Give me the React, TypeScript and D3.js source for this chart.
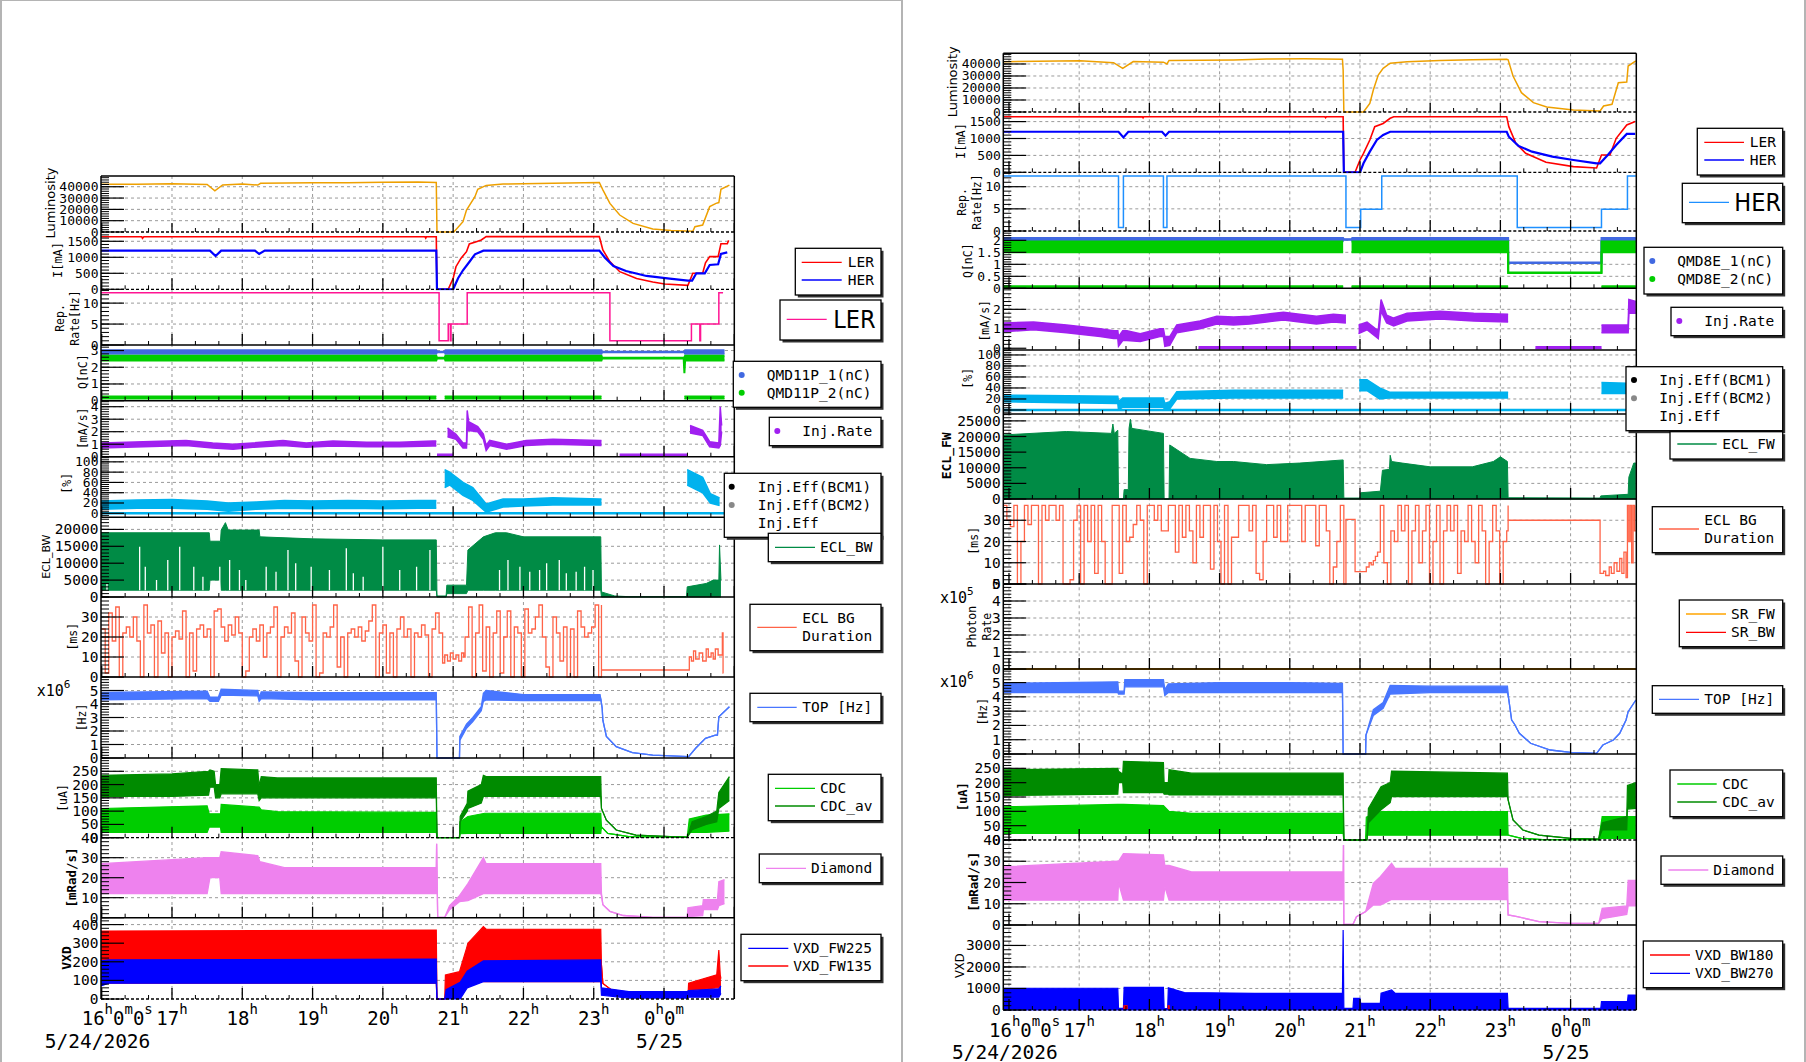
import React from 'react';
import * as d3 from 'd3';

type P2 = [number, number];
type P3 = [number, number, number];
const G: P3 = [NaN, NaN, NaN];
const seq = (t0: number, dt: number, v: number[]): P2[] => v.map((val, i) => [t0 + i * dt, val] as P2);

// ---------------- LEFT (LER) data ----------------
const lumL: P2[] = [[15.99,42100],[16.5,42300],[17.0,42600],[17.5,42000],[17.61,36400],[17.72,41600],[18.0,42500],[18.22,41500],[18.26,43000],[19.0,43600],[19.5,43500],[20.0,44000],[20.5,44200],[20.76,43800],[20.77,0],[21.01,0],[21.14,9100],[21.19,19400],[21.31,31200],[21.35,37700],[21.47,41200],[21.71,42400],[22.42,43200],[23.08,43800],[23.13,37300],[23.23,25300],[23.37,15000],[23.56,7600],[23.84,2600],[24.1,1400],[24.41,600],[24.44,4700],[24.55,6200],[24.65,22400],[24.74,25300],[24.78,26000],[24.81,37700],[24.93,41500]];
const lerL: P2[] = [[15.99,1640],[16.57,1640],[16.58,1590],[16.6,1640],[20.6,1640],[20.61,1600],[20.62,1640],[20.76,1640],[20.77,0],[20.93,0],[21.0,340],[21.04,706],[21.11,966],[21.19,1175],[21.23,1416],[21.33,1488],[21.4,1540],[21.47,1644],[23.08,1644],[23.13,1228],[23.23,863],[23.37,550],[23.61,340],[23.84,228],[24.01,166],[24.34,124],[24.41,500],[24.55,500],[24.59,830],[24.65,1020],[24.77,1020],[24.81,1425],[24.9,1425],[24.92,1530]];
const herL: P2[] = [[15.99,1207],[17.54,1207],[17.62,1040],[17.7,1207],[18.18,1207],[18.24,1103],[18.32,1207],[20.76,1207],[20.77,0],[21.0,0],[21.07,344],[21.14,594],[21.23,853],[21.31,1093],[21.43,1207],[23.08,1207],[23.16,988],[23.28,728],[23.46,571],[23.75,417],[24.08,334],[24.34,272],[24.4,272],[24.46,500],[24.58,500],[24.65,760],[24.77,780],[24.81,1103],[24.9,1155]];
const repL: P2[] = [[15.99,12.5],[20.8,1.0],[20.93,5],[20.96,1],[20.97,5],[21.2,12.5],[23.23,1],[24.39,5],[24.51,1],[24.52,5],[24.78,12.5],[24.84,12.5]];
const q1L: P3[] = [[15.99,2.8,3.02],[20.76,2.8,3.02],[20.77,2.9,2.93],[20.88,2.9,2.93],[20.89,2.8,3.02],[23.11,2.8,3.02],[23.12,2.9,2.93],[24.29,2.9,2.93],[24.3,2.8,3.02],[24.86,2.8,3.02]];
const q2L: P3[] = [[15.99,2.4,2.68],[20.76,2.4,2.68],[20.77,2.53,2.57],[20.88,2.53,2.57],[20.89,2.4,2.68],[23.11,2.4,2.68],[23.12,2.53,2.57],[24.28,2.53,2.57],[24.29,1.65,2.6],[24.3,2.4,2.68],[24.86,2.4,2.68]];
const q2LowL: P3[] = [[15.99,0.12,0.26],[20.76,0.12,0.26],G,[20.88,0.12,0.26],[23.11,0.12,0.26],G,[24.29,0.12,0.26],[24.86,0.12,0.26]];
const injL: P3[] = [[15.99,0.7,1.1],[16.59,0.8,1.2],[17.2,0.9,1.3],[17.58,0.7,1.1],[17.87,0.6,1.0],[18.15,0.75,1.1],[18.58,0.9,1.3],[18.91,0.75,1.1],[19.29,0.85,1.25],[19.77,0.8,1.15],[20.24,0.8,1.15],[20.71,0.85,1.25],[20.76,0.85,1.25],G,[20.92,1.6,2.3],[21.04,1.4,1.8],[21.14,0.7,1.1],[21.19,0.7,1.1],[21.2,2.2,3.7],[21.22,2.1,2.8],[21.35,2.0,2.4],[21.43,1.4,1.8],[21.47,0.5,0.9],[21.52,0.9,1.3],[21.76,0.6,1.0],[22.04,0.9,1.3],[22.42,1.0,1.4],[23.08,0.9,1.3],[23.11,0.9,1.3],G,[24.37,1.9,2.5],[24.55,1.7,2.1],[24.65,0.8,1.2],[24.78,0.7,1.1],[24.8,0.9,4.0],[24.82,2.0,2.5]];
const injZeroL: P3[] = [[20.77,0.05,0.2],[21.0,0.05,0.2],G,[23.37,0.05,0.2],[24.33,0.05,0.2]];
const effL: P3[] = [[15.99,8,24],[16.5,10,26],[17.0,10,27],[17.5,8,24],[17.8,4,20],[18.2,8,22],[18.6,10,25],[19.0,9,24],[19.5,10,25],[20.0,9,24],[20.5,10,25],[20.76,10,25],G,[20.88,50,85],[20.95,55,80],[21.14,35,60],[21.28,25,50],[21.47,2,18],[21.71,12,28],[22.0,14,28],[22.42,16,30],[23.08,16,28],[23.11,16,28],G,[24.33,55,85],[24.55,40,70],[24.66,20,38],[24.79,15,30]];
const effZeroL: P3[] = [[15.99,-0.9,0.9],[24.86,-0.9,0.9]];
const eclBwL: P3[] = [[15.99,2000,19000],[17.53,2000,19000],[17.54,5000,16500],[17.69,5000,16500],[17.7,2000,19800],[17.76,2000,22000],[17.8,2000,19800],[18.24,2000,19800],[18.25,2000,17800],[19.0,2000,17200],[20.0,2000,16900],[20.76,2000,16900],[20.77,0,300],[20.9,0,300],[20.91,1000,3500],[21.19,1000,3500],[21.21,2000,13900],[21.43,2000,17800],[21.6,2000,19000],[21.76,2000,19000],[22.0,2000,17800],[23.1,2000,17800],[23.11,0,1500],[23.3,0,300],[23.5,0,100],[24.32,0,100],[24.33,0,3000],[24.6,0,4000],[24.7,0,5000],[24.78,0,5000],[24.79,0,15400],[24.81,0,5000]];
// white gaps (time, from, up to) seen inside the ECL_BW band
const eclBwGapsL: P3[] = [[16.075,2000,4050],[16.54,2000,14900],[16.62,2000,8960],[16.78,2000,5030],[16.94,2000,10950],[17.11,2000,14900],[17.31,2000,8960],[17.44,2000,6000],[17.68,2000,8960],[17.82,2000,10950],[17.96,2000,7990],[18.05,2000,5030],[18.34,2000,8960],[18.48,2000,7490],[18.65,2000,13900],[18.76,2000,9960],[18.98,2000,8960],[19.24,2000,7990],[19.48,2000,14400],[19.58,2000,7000],[19.72,2000,6000],[20.0,2000,14900],[20.24,2000,7990],[20.48,2000,8960],[20.67,2000,13900],[21.66,2000,8000],[21.78,2000,10950],[21.95,2000,8960],[22.09,2000,7490],[22.23,2000,7990],[22.33,2000,9960],[22.51,2000,10950],[22.61,2000,7000],[22.75,2000,7490],[22.87,2000,8960],[22.99,2000,7990]];
const eclBgLa = [24,2,32,18,35,0,22,25,20,30,18,0,36,22,26,0,28,12,22,0,20,23,19,33,0,22,3,24,26,20,24,0,33,34,25,18,26,21,30,22,0,3,20,24,18,26,10,22,25,35,0,20,25,22,32,8,0,30,22,18,36,0,2,22,20,25,36,5,20,0,22,24,20,25,18,23,28,36,0,22,26,2,22,0,24,30,20,24,0,22,20,26,21,0,24,32];
const eclBgLb: P2[] = [[20.8,22],[20.84,22],[20.85,7],[20.88,11],[20.92,8],[20.96,12],[21.0,9],[21.04,11],[21.08,8],[21.12,12],[21.15,10]];
const eclBgLc = [20,35,0,22,36,3,25,0,22,33,2,20,33,0,25,22,0,34,22,24,30,36,20,5,0,30,22,8,25,0,24,0,33,25,20,22,25,36,0];
const eclBgLd: P2[] = [[23.11,36],[23.11,3.5],[24.35,3.5],[24.36,10],[24.39,8],[24.42,13],[24.45,9],[24.5,12],[24.55,8],[24.6,14],[24.63,10],[24.67,12],[24.7,9],[24.73,14],[24.77,11],[24.83,22],[24.84,2],[24.845,2]];
const topL: P3[] = [[15.99,4.3,4.85],[17.5,4.4,4.95],[17.54,4.2,4.5],[17.66,4.2,4.5],[17.7,4.65,5.1],[18.22,4.6,5.0],[18.24,4.2,4.5],[18.27,4.4,4.9],[19.0,4.3,4.85],[20.0,4.3,4.85],[20.76,4.3,4.85],[20.77,0,0],[21.09,0,0],[21.095,1.3,1.6],[21.19,2.2,2.5],[21.28,2.7,3.0],[21.4,3.5,3.8],[21.43,4.2,4.8],[21.47,4.3,5.0],[22.0,4.25,4.7],[23.09,4.25,4.7],[23.1,4.4,4.4],[23.12,3.7,3.7],[23.13,2.8,2.8],[23.18,1.6,1.6],[23.32,0.84,0.84],[23.55,0.4,0.4],[23.84,0.22,0.22],[24.35,0.1,0.1],[24.45,0.72,0.72],[24.59,1.46,1.46],[24.73,1.7,1.7],[24.76,1.7,1.7],[24.78,3.06,3.06],[24.93,3.8,3.8]];
const cdcL: P3[] = [[15.99,20,110],[17.5,20,120],[17.53,40,90],[17.69,40,90],[17.7,20,125],[18.24,20,115],[18.27,20,105],[18.5,20,98],[20.76,20,95],[20.77,0,0],[21.09,0,0],[21.1,15,60],[21.21,16,80],[21.45,16,92],[23.1,16,92],[23.11,41,41],[23.2,16,16],[23.5,4,4],[24.33,2,2],[24.36,20,70],[24.6,20,85],[24.93,25,90]];
const cdcAvL: P3[] = [[15.99,155,235],[17.0,155,240],[17.52,160,250],[17.54,190,255],[17.6,190,250],[17.62,150,200],[17.68,150,200],[17.7,165,260],[18.22,165,255],[18.24,140,195],[18.27,150,230],[18.5,150,225],[20.76,150,225],[20.77,0,0],[21.09,0,0],[21.1,60,80],[21.2,100,130],[21.21,110,175],[21.4,130,200],[21.43,155,235],[21.47,155,230],[23.1,155,230],[23.11,110,110],[23.18,66,66],[23.32,29,29],[23.6,10,10],[24.33,1,1],[24.4,30,60],[24.6,50,80],[24.75,60,100],[24.78,110,170],[24.93,140,230]];
const diaL: P3[] = [[15.99,12,27],[17.5,12,30],[17.54,20,30],[17.68,20,30],[17.7,12,33],[18.22,12,31],[18.25,12,28],[18.6,12,25],[20.76,12,25],[20.765,37,37],[20.78,0.2,0.2],[20.88,0.2,0.2],[20.95,4,6],[21.09,8,11],[21.21,8.5,17],[21.43,12,30],[21.47,12,27],[23.1,12,27],[23.11,11,12],[23.13,6.5,6.5],[23.23,3.2,3.2],[23.42,1.1,1.1],[23.84,0.2,0.2],[24.33,0.2,0.2],[24.34,0.5,5],[24.55,1,6],[24.56,4,9],[24.76,4,9],[24.78,6,18],[24.86,7,19]];
const vxd135L: P3[] = [[15.99,85,365],[20.76,85,370],[20.77,0,0],[20.88,0,0],[20.89,0,129],[21.09,50,147],[21.19,140,272],[21.21,140,300],[21.43,93,389],[21.47,93,375],[23.1,93,375],[23.11,183,183],[23.13,84,84],[23.32,30,30],[23.84,9,9],[24.34,9,9],[24.35,45,85],[24.75,60,130],[24.78,60,263],[24.8,60,130],[24.81,60,110]];
const vxd225L: P3[] = [[15.99,70,205],[16.1,85,210],[20.76,85,215],[20.77,0,0],[20.88,0,0],[20.9,0,50],[21.1,0,90],[21.2,60,150],[21.43,93,205],[23.1,93,210],[23.11,20,60],[23.5,5,40],[24.33,5,40],[24.35,10,45],[24.78,10,55],[24.81,30,70]];

// ---------------- RIGHT (HER) data ----------------
const lumR: P2[] = [[15.92,41900],[17.01,42600],[17.49,41100],[17.62,36400],[17.77,42000],[18.2,41500],[18.25,40000],[18.28,43000],[19.2,43400],[19.67,44200],[20.2,44300],[20.75,43900],[20.76,35000],[20.77,0],[21.05,0],[21.14,7200],[21.19,18300],[21.26,30800],[21.33,36400],[21.43,40600],[21.67,41900],[22.14,42800],[22.6,43500],[23.09,43900],[23.11,43500],[23.18,30000],[23.3,16100],[23.47,7800],[23.66,4200],[24.04,1700],[24.42,800],[24.47,5000],[24.59,6400],[24.68,24400],[24.8,25000],[24.82,38300],[24.93,42500]];
const lerR: P2[] = [[15.92,1645],[17.9,1640],[17.91,1610],[17.92,1645],[20.5,1645],[20.51,1615],[20.52,1645],[20.76,1645],[20.77,0],[20.93,0],[21.0,364],[21.05,562],[21.14,956],[21.21,1350],[21.33,1445],[21.43,1598],[21.48,1645],[23.09,1645],[23.12,1350],[23.22,860],[23.36,562],[23.65,296],[24.04,168],[24.37,128],[24.44,512],[24.56,512],[24.65,1006],[24.8,1400],[24.92,1500]];
const herR: P2[] = [[15.92,1200],[17.56,1200],[17.63,1034],[17.7,1200],[18.18,1200],[18.23,1083],[18.28,1200],[20.76,1200],[20.77,0],[21.0,0],[21.05,266],[21.14,611],[21.24,956],[21.33,1104],[21.43,1200],[23.09,1200],[23.12,1054],[23.26,778],[23.45,611],[23.74,463],[24.04,364],[24.37,266],[24.42,266],[24.53,512],[24.65,808],[24.8,1134],[24.92,1134]];
const repR: P2[] = [[15.92,12.4],[17.56,0.8],[17.63,12.4],[18.2,0.8],[18.25,12.4],[20.8,0.8],[21.01,4.9],[21.31,12.4],[23.24,0.8],[24.44,4.9],[24.81,12.4],[24.93,12.4]];
const q1R: P3[] = [[15.92,1.98,2.1],[20.76,1.98,2.1],[20.77,2.03,2.05],[20.88,2.03,2.05],[20.89,1.98,2.1],[23.11,1.98,2.1],[23.111,1.06,1.08],[24.44,1.06,1.08],[24.441,1.98,2.1],[24.93,1.98,2.1]];
const q2R: P3[] = [[15.92,1.5,1.95],[20.76,1.5,1.95],G,[20.88,1.5,1.95],[23.11,1.5,1.95],[23.111,0.64,0.66],[24.44,0.64,0.66],[24.441,1.5,1.95],[24.93,1.5,1.95]];
const q2LowR: P3[] = [[15.92,0.03,0.1],[20.76,0.03,0.1],G,[20.88,0.03,0.1],[23.11,0.03,0.1],G,[24.44,0.03,0.1],[24.93,0.03,0.1]];
const injR: P3[] = [[15.92,0.85,1.3],[16.35,0.95,1.35],[16.82,0.8,1.2],[17.3,0.6,1.0],[17.49,0.5,0.9],[17.55,0.5,0.9],[17.56,0.1,0.6],[17.62,0.4,0.9],[17.68,0.4,0.9],[17.87,0.35,0.75],[18.15,0.6,1.0],[18.2,0.6,1.0],[18.22,0.1,0.6],[18.29,0.15,0.6],[18.39,0.8,1.2],[18.72,1.0,1.4],[18.96,1.25,1.65],[19.2,1.2,1.6],[19.43,1.25,1.65],[19.67,1.35,1.75],[19.91,1.45,1.85],[20.14,1.35,1.75],[20.38,1.25,1.65],[20.62,1.35,1.75],[20.8,1.3,1.7],G,[20.98,0.75,1.2],[21.1,0.95,1.35],[21.26,0.5,0.9],[21.3,1.9,2.5],[21.38,1.3,1.7],[21.48,1.15,1.55],[21.67,1.4,1.8],[22.14,1.5,1.9],[22.62,1.4,1.8],[23.11,1.35,1.75],G,[24.44,0.8,1.2],[24.82,0.8,1.2],[24.83,1.8,2.5],[24.93,1.8,2.4]];
const injZeroR: P3[] = [[18.7,-0.02,0.08],[20.95,-0.02,0.08],G,[23.5,-0.02,0.08],[24.44,-0.02,0.08]];
const effR: P3[] = [[15.92,15,27],[17.55,12,25],[17.56,0,15],[17.62,5,22],[18.2,5,22],[18.22,0,12],[18.29,2,15],[18.39,20,33],[19.2,22,36],[20.76,22,36],G,[20.99,35,55],[21.1,35,55],[21.28,20,40],[21.43,22,32],[23.11,22,32],G,[24.44,30,50],[24.93,30,48]];
const effZeroR: P3[] = [[15.92,-0.9,0.9],[24.93,-0.9,0.9]];
const eclFwR: P3[] = [[15.92,0,20500],[16.82,0,21600],[17.46,0,21000],[17.48,0,24000],[17.5,0,21000],[17.55,0,22000],[17.56,0,0],[17.63,0,0],[17.64,0,3000],[17.7,0,3000],[17.71,0,22600],[17.73,0,25500],[17.75,0,22600],[18.2,0,21000],[18.21,0,0],[18.28,0,0],[18.29,0,17300],[18.58,0,13000],[18.96,0,12000],[19.2,0,12000],[19.67,0,11000],[20.14,0,11500],[20.76,0,12500],[20.77,0,300],[21.0,0,300],[21.01,0,2000],[21.29,0,2500],[21.32,0,9200],[21.42,0,9500],[21.43,0,14000],[21.45,0,12000],[21.6,0,11500],[22.0,0,10300],[22.6,0,10300],[22.9,0,12000],[23.0,0,13500],[23.1,0,12000],[23.11,0,400],[24.42,0,300],[24.43,0,1000],[24.82,0,1500],[24.83,0,7000],[24.9,0,11500],[24.93,0,11500]];
const eclBgRa = [37,30,27,37,0,20,37,28,37,37,0,37,30,37,37,30,37,0,0,2,30,37,0,37,20,37,5,37,20,0,0,37,37,5,37,20,22,28,37,30,0,37,37,30,37,25,25,37,37,15,37,22,37,25,10,37,22,37,37,7,37,20,0,37,0,22,22,37,37,37,25,37,5,2,20,37,37,22,37,20,20,37,37,37,37,20,37,37,37,18,37,37,25,0,8,20,37,0];
const eclBgRb: P2[] = [[20.8,30.4],[20.93,30.4],[20.93,5.8],[21.07,5.8],[21.09,8],[21.13,10],[21.16,9],[21.19,11],[21.22,13],[21.25,15]];
const eclBgRc = [37,10,0,25,20,37,25,37,0,25,37,10,25,37,0,20,37,0,25,37,25,37,5,25,20,37,20,10,37,25,0,20,37,25,0,20,25];
const eclBgRd: P2[] = [[23.11,37],[23.11,30],[24.42,30],[24.42,5],[24.47,6],[24.5,4],[24.55,8],[24.58,5],[24.62,10],[24.66,6],[24.7,12],[24.73,5],[24.76,15],[24.79,3],[24.81,37],[24.83,20],[24.85,37],[24.87,10],[24.89,37],[24.91,25],[24.936,37]];
const srFwR: P2[] = [[15.92,0],[24.936,0]];
const srBwR: P2[] = [[15.92,0],[24.936,0]];
const topR: P3[] = [[15.92,4.3,4.95],[17.55,4.3,5.05],[17.56,4.2,4.4],[17.64,4.2,4.4],[17.65,4.7,5.2],[18.2,4.7,5.2],[18.22,4.1,4.5],[18.27,4.3,4.9],[19.0,4.3,5.0],[20.0,4.3,5.0],[20.75,4.3,4.95],[20.76,0,0],[21.08,0,0],[21.085,1.33,1.33],[21.19,2.7,3.1],[21.33,3.2,3.6],[21.43,4.2,4.8],[22.0,4.3,4.75],[23.1,4.3,4.75],[23.12,3.8,3.8],[23.16,2.38,2.38],[23.2,2.1,2.1],[23.27,1.45,1.45],[23.43,0.75,0.75],[23.71,0.28,0.28],[24.0,0.12,0.12],[24.37,0.05,0.05],[24.46,0.63,0.63],[24.61,0.98,0.98],[24.7,1.45,1.45],[24.79,2.38,2.38],[24.82,2.96,2.96],[24.93,3.78,3.78]];
const cdcR: P3[] = [[15.92,23,116],[17.55,23,124],[17.63,23,124],[18.2,23,120],[18.28,23,100],[18.6,23,93],[20.76,23,93],[20.77,0,0],[21.08,0,0],[21.09,17,80],[21.3,17,99],[23.1,17,99],[23.11,17,17],[23.3,6,6],[23.6,1,1],[24.4,1,1],[24.45,6,82],[24.93,6,82]];
const cdcAvR: P3[] = [[15.92,155,245],[17.55,160,250],[17.56,200,240],[17.62,200,230],[17.63,165,274],[18.2,165,270],[18.21,160,200],[18.27,160,200],[18.28,157,245],[18.6,157,233],[20.76,157,233],[20.77,0,0],[21.1,0,0],[21.12,60,110],[21.3,105,186],[21.43,130,200],[21.45,151,240],[23.1,151,233],[23.11,140,140],[23.18,70,70],[23.32,35,35],[23.55,17,17],[24.0,6,6],[24.4,3,3],[24.45,35,60],[24.8,35,82],[24.81,108,190],[24.93,110,200]];
const diaR: P3[] = [[15.92,11.7,27.4],[17.55,11.7,30],[17.56,20,30],[17.63,11.7,33.6],[18.2,11.7,33],[18.22,18,28],[18.28,11.7,28],[18.6,11.7,25],[20.76,11.7,25],[20.765,37.6,37.6],[20.77,0.3,0.3],[20.9,0.3,0.3],[20.95,3.9,3.9],[21.08,6.3,6.3],[21.19,9.4,19.6],[21.29,9.4,22.7],[21.45,12,29],[21.5,12,26.6],[23.1,12,26.6],[23.11,4.7,4.7],[23.24,3.9,3.9],[23.55,1.6,1.6],[24.0,0.8,0.8],[24.4,0.8,0.8],[24.45,3,7.8],[24.8,5,9],[24.82,9,21],[24.93,9,21]];
const vxd270R: P3[] = [[15.92,0,1010],[17.55,0,1010],[17.56,0,76],[17.63,0,76],[17.64,0,1050],[18.2,0,1050],[18.21,0,60],[18.26,0,60],[18.27,0,1030],[18.5,0,808],[19.5,0,776],[20.75,0,776],[20.76,0,3720],[20.77,0,78],[20.9,0,78],[20.91,0,543],[21.0,0,543],[21.01,0,310],[21.29,0,310],[21.3,0,776],[21.45,0,930],[21.5,0,776],[23.1,0,776],[23.11,0,78],[24.43,0,78],[24.44,0,388],[24.81,0,388],[24.82,0,698],[24.93,0,698]];
const vxd180R: P3[] = [[17.63,60,200],[17.69,60,200],G,[18.26,60,200],[18.29,60,200]];

// ---------------- styling ----------------
const MONO = "'DejaVu Sans Mono', monospace";
const SANS = "'DejaVu Sans', sans-serif";
const C = {
  lum: '#eea000', ler: '#ff0000', her: '#0000ff', repL: '#ff1493', repH: '#1e90ff',
  qB: '#4169e1', qG: '#00cd00', inj: '#a020f0', eff: '#00b2ee', ecl: '#008b45',
  eclbg: '#ff6347', top: '#4876ff', cdc: '#00cd00', cdcAv: '#008b00', dia: '#ee82ee',
  sr: '#ffa500',
};

type S =
  | { k: 'line'; d: P2[]; c: string; w?: number; step?: boolean }
  | { k: 'band'; d: P3[]; c: string; w?: number }
  | { k: 'vlines'; d: P3[]; c: string; w?: number };

interface PanelCfg { top: number; bottom: number; domain: [number, number]; ticks: number[]; fs: number; dashed?: boolean; series: S[]; tl?: number }
interface YLab { text: string; x: number; y: number; size: number; bold?: boolean; sans?: boolean }
interface XLab { x: number; y: number; base: string; sup: string }
interface LegEntry { mark: 'line' | 'dot' | 'none'; color: string; y: number; labels: [string, number][] }
interface LegCfg { x: number; y: number; w: number; h: number; mx1: number; mx2: number; tx: number; big?: boolean; entries: LegEntry[] }
interface ColCfg { left: number; right: number; t: [number, number]; top: number; bottom: number; panels: PanelCfg[]; ylabs: YLab[]; xpow: XLab[]; legends: LegCfg[]; xLabY: number; dateY: number }

const eclBgL: P2[] = [...seq(16.0, 0.05, eclBgLa), ...eclBgLb, ...seq(21.17, 0.05, eclBgLc), ...eclBgLd];
const eclBgR: P2[] = [...seq(15.92, 0.05, eclBgRa), ...eclBgRb, ...seq(21.29, 0.05, eclBgRc), ...eclBgRd];

const LEFT: ColCfg = {
  left: 101, right: 734.3, t: [15.99, 25.0], top: 176, bottom: 999, xLabY: 1025, dateY: 1048,
  panels: [
    { top: 176, bottom: 232, domain: [0, 49500], ticks: [0, 10000, 20000, 30000, 40000], fs: 13, dashed: true, tl: 9,
      series: [{ k: 'line', d: lumL, c: C.lum, w: 1.5 }] },
    { top: 232, bottom: 289.3, domain: [0, 1790], ticks: [0, 500, 1000, 1500], fs: 13, dashed: true,
      series: [{ k: 'line', d: lerL, c: C.ler, w: 1.6 }, { k: 'line', d: herL, c: C.her, w: 2.2 }] },
    { top: 289.3, bottom: 345, domain: [0, 13.3], ticks: [0, 5, 10], fs: 13,
      series: [{ k: 'line', d: repL, c: C.repL, w: 1.5, step: true }] },
    { top: 345, bottom: 400.7, domain: [0, 3.33], ticks: [0, 1, 2, 3], fs: 13,
      series: [{ k: 'band', d: q1L, c: C.qB, w: 2 }, { k: 'band', d: q2L, c: C.qG, w: 2 }, { k: 'band', d: q2LowL, c: C.qG, w: 1.5 }] },
    { top: 400.7, bottom: 456.7, domain: [0, 4.48], ticks: [0, 1, 2, 3, 4], fs: 13,
      series: [{ k: 'band', d: injL, c: C.inj, w: 1.5 }, { k: 'band', d: injZeroL, c: C.inj, w: 1.2 }] },
    { top: 456.7, bottom: 517.3, domain: [-7.8, 110], ticks: [0, 20, 40, 60, 80, 100], fs: 13,
      series: [{ k: 'band', d: effL, c: C.eff, w: 1.5 }, { k: 'band', d: effZeroL, c: C.eff, w: 1.5 }] },
    { top: 517.3, bottom: 597, domain: [0, 23580], ticks: [0, 5000, 10000, 15000, 20000], fs: 14.5,
      series: [{ k: 'band', d: eclBwL, c: C.ecl, w: 1 }, { k: 'vlines', d: eclBwGapsL, c: '#fff', w: 1.3 }] },
    { top: 597, bottom: 677, domain: [0, 40], ticks: [0, 10, 20, 30], fs: 14.5,
      series: [{ k: 'line', d: eclBgL, c: C.eclbg, w: 1.3, step: true }] },
    { top: 677, bottom: 758, domain: [0, 6], ticks: [0, 1, 2, 3, 4, 5], fs: 14.5,
      series: [{ k: 'band', d: topL, c: C.top, w: 1.3 }] },
    { top: 758, bottom: 837.7, domain: [0, 300], ticks: [0, 50, 100, 150, 200, 250], fs: 14.5, dashed: true,
      series: [{ k: 'band', d: cdcL, c: C.cdc, w: 1.2 }, { k: 'band', d: cdcAvL, c: C.cdcAv, w: 1.2 }] },
    { top: 837.7, bottom: 917.7, domain: [0, 40], ticks: [0, 10, 20, 30, 40], fs: 14.5,
      series: [{ k: 'band', d: diaL, c: C.dia, w: 1.3 }] },
    { top: 917.7, bottom: 999, domain: [0, 437], ticks: [0, 100, 200, 300, 400], fs: 14.5, dashed: true,
      series: [{ k: 'band', d: vxd135L, c: '#ff0000', w: 1.2 }, { k: 'band', d: vxd225L, c: '#0000ff', w: 1.2 }] },
  ],
  ylabs: [
    { text: 'Luminosity', x: 50, y: 203, size: 13, sans: true },
    { text: 'I[mA]', x: 58.3, y: 260, size: 12 },
    { text: 'Rep.', x: 60, y: 318, size: 11.5 },
    { text: 'Rate[Hz]', x: 75, y: 318, size: 11.5 },
    { text: 'Q[nC]', x: 83.3, y: 371.7, size: 11.5 },
    { text: '[mA/s]', x: 82.7, y: 428.3, size: 11.5 },
    { text: '[%]', x: 66.7, y: 483.3, size: 11.5 },
    { text: 'ECL_BW', x: 46, y: 556.7, size: 11, sans: true },
    { text: '[ms]', x: 72.7, y: 636.7, size: 11.5 },
    { text: '[Hz]', x: 81.7, y: 717.5, size: 11.5 },
    { text: '[uA]', x: 63.3, y: 798, size: 11.5 },
    { text: '[mRad/s]', x: 71.7, y: 877.5, size: 12.5, bold: true },
    { text: 'VXD', x: 66.7, y: 958, size: 13, bold: true },
  ],
  xpow: [{ x: 36.7, y: 696, base: 'x10', sup: '6' }],
  legends: [
    { x: 795.3, y: 248.3, w: 85.7, h: 46.7, mx1: 801.7, mx2: 841.7, tx: 847.7,
      entries: [{ mark: 'line', color: C.ler, y: 262.3, labels: [['LER', 262.3]] }, { mark: 'line', color: C.her, y: 280, labels: [['HER', 280]] }] },
    { x: 780, y: 300, w: 101, h: 40, mx1: 786.7, mx2: 826.7, tx: 833.3, big: true,
      entries: [{ mark: 'line', color: C.repL, y: 319.3, labels: [['LER', 319.3]] }] },
    { x: 733.3, y: 361.3, w: 147.7, h: 46, mx1: 741.7, mx2: 0, tx: 766.7,
      entries: [{ mark: 'dot', color: C.qB, y: 375, labels: [['QMD11P_1(nC)', 375]] }, { mark: 'dot', color: C.qG, y: 392.7, labels: [['QMD11P_2(nC)', 392.7]] }] },
    { x: 769.3, y: 417.3, w: 111.7, h: 28.4, mx1: 777.3, mx2: 0, tx: 802.3,
      entries: [{ mark: 'dot', color: C.inj, y: 431, labels: [['Inj.Rate', 431]] }] },
    { x: 724.3, y: 473.3, w: 156.7, h: 64, mx1: 731.7, mx2: 0, tx: 757.7,
      entries: [{ mark: 'dot', color: '#000', y: 486.7, labels: [['Inj.Eff(BCM1)', 486.7]] }, { mark: 'dot', color: '#888', y: 505, labels: [['Inj.Eff(BCM2)', 505]] }, { mark: 'none', color: C.eff, y: 522.7, labels: [['Inj.Eff', 522.7]] }] },
    { x: 768.3, y: 533.3, w: 112.7, h: 28.4, mx1: 775, mx2: 815, tx: 820,
      entries: [{ mark: 'line', color: C.ecl, y: 547.3, labels: [['ECL_BW', 547.3]] }] },
    { x: 750, y: 604.3, w: 131, h: 46.4, mx1: 757.3, mx2: 796.7, tx: 802.3,
      entries: [{ mark: 'line', color: C.eclbg, y: 627.3, labels: [['ECL BG', 618.3], ['Duration', 636]] }] },
    { x: 750, y: 693.3, w: 131, h: 28.4, mx1: 757.3, mx2: 796.7, tx: 802.3,
      entries: [{ mark: 'line', color: C.top, y: 707.3, labels: [['TOP [Hz]', 707.3]] }] },
    { x: 768.3, y: 774.3, w: 112.7, h: 46.4, mx1: 775, mx2: 815, tx: 820,
      entries: [{ mark: 'line', color: C.cdc, y: 788.3, labels: [['CDC', 788.3]] }, { mark: 'line', color: C.cdcAv, y: 806, labels: [['CDC_av', 806]] }] },
    { x: 759.3, y: 854, w: 121.7, h: 28.7, mx1: 766, mx2: 806, tx: 811,
      entries: [{ mark: 'line', color: C.dia, y: 868.3, labels: [['Diamond', 868.3]] }] },
    { x: 741, y: 934.3, w: 140, h: 46.4, mx1: 748.3, mx2: 788.3, tx: 793.3,
      entries: [{ mark: 'line', color: '#0000ff', y: 948.3, labels: [['VXD_FW225', 948.3]] }, { mark: 'line', color: '#ff0000', y: 966, labels: [['VXD_FW135', 966]] }] },
  ],
};

const RIGHT: ColCfg = {
  left: 1003.3, right: 1636.3, t: [15.919, 24.936], top: 53.3, bottom: 1010, xLabY: 1036.7, dateY: 1058.5,
  panels: [
    { top: 53.3, bottom: 112, domain: [0, 48900], ticks: [0, 10000, 20000, 30000, 40000], fs: 13, dashed: true, tl: 9,
      series: [{ k: 'line', d: lumR, c: C.lum, w: 1.5 }] },
    { top: 112, bottom: 172.3, domain: [0, 1784], ticks: [0, 500, 1000, 1500], fs: 13, dashed: true,
      series: [{ k: 'line', d: lerR, c: C.ler, w: 1.6 }, { k: 'line', d: herR, c: C.her, w: 2.2 }] },
    { top: 172.3, bottom: 231, domain: [0, 13.25], ticks: [0, 5, 10], fs: 13, dashed: true,
      series: [{ k: 'line', d: repR, c: C.repH, w: 1.5, step: true }] },
    { top: 231, bottom: 288.3, domain: [0, 2.39], ticks: [0, 0.5, 1, 1.5, 2], fs: 13,
      series: [{ k: 'band', d: q1R, c: C.qB, w: 2 }, { k: 'band', d: q2R, c: C.qG, w: 2 }, { k: 'band', d: q2LowR, c: C.qG, w: 1.5 }] },
    { top: 288.3, bottom: 350, domain: [-0.09, 3.08], ticks: [0, 1, 2], fs: 13,
      series: [{ k: 'band', d: injR, c: C.inj, w: 1.5 }, { k: 'band', d: injZeroR, c: C.inj, w: 1.2 }] },
    { top: 350, bottom: 414, domain: [-7.3, 109], ticks: [0, 20, 40, 60, 80, 100], fs: 13,
      series: [{ k: 'band', d: effR, c: C.eff, w: 1.5 }, { k: 'band', d: effZeroR, c: C.eff, w: 1.5 }] },
    { top: 414, bottom: 499, domain: [0, 27200], ticks: [0, 5000, 10000, 15000, 20000, 25000], fs: 14.5,
      series: [{ k: 'band', d: eclFwR, c: C.ecl, w: 1 }] },
    { top: 499, bottom: 584, domain: [0, 40], ticks: [0, 10, 20, 30], fs: 14.5,
      series: [{ k: 'line', d: eclBgR, c: C.eclbg, w: 1.3, step: true }] },
    { top: 584, bottom: 669, domain: [0, 5], ticks: [0, 1, 2, 3, 4, 5], fs: 14.5,
      series: [{ k: 'line', d: srBwR, c: '#ff0000', w: 1.5 }, { k: 'line', d: srFwR, c: C.sr, w: 2 }] },
    { top: 669, bottom: 754, domain: [0, 5.95], ticks: [0, 1, 2, 3, 4, 5], fs: 14.5,
      series: [{ k: 'band', d: topR, c: C.top, w: 1.3 }] },
    { top: 754, bottom: 840, domain: [0, 300], ticks: [0, 50, 100, 150, 200, 250], fs: 14.5, dashed: true,
      series: [{ k: 'band', d: cdcR, c: C.cdc, w: 1.2 }, { k: 'band', d: cdcAvR, c: C.cdcAv, w: 1.2 }] },
    { top: 840, bottom: 925, domain: [0, 40], ticks: [0, 10, 20, 30, 40], fs: 14.5,
      series: [{ k: 'band', d: diaR, c: C.dia, w: 1.3 }] },
    { top: 925, bottom: 1010, domain: [0, 3950], ticks: [0, 1000, 2000, 3000], fs: 14.5, dashed: true,
      series: [{ k: 'band', d: vxd270R, c: '#0000ff', w: 1.2 }, { k: 'band', d: vxd180R, c: '#ff0000', w: 1 }] },
  ],
  ylabs: [
    { text: 'Luminosity', x: 952.7, y: 81.7, size: 13, sans: true },
    { text: 'I[mA]', x: 960.7, y: 141, size: 12 },
    { text: 'Rep.', x: 961.7, y: 202, size: 11.5 },
    { text: 'Rate[Hz]', x: 976.7, y: 202, size: 11.5 },
    { text: 'Q[nC]', x: 968.3, y: 260.7, size: 11.5 },
    { text: '[mA/s]', x: 985, y: 320.8, size: 11.5 },
    { text: '[%]', x: 968.3, y: 378.3, size: 11.5 },
    { text: 'ECL_FW', x: 946.7, y: 455.8, size: 13, bold: true },
    { text: '[ms]', x: 974, y: 540.8, size: 11.5 },
    { text: 'Photon', x: 971.7, y: 626.7, size: 11.5 },
    { text: 'Rate', x: 986.7, y: 626.7, size: 11.5 },
    { text: '[Hz]', x: 983.3, y: 711.7, size: 11.5 },
    { text: '[uA]', x: 963.3, y: 796.7, size: 12, bold: true },
    { text: '[mRad/s]', x: 973.3, y: 881.7, size: 12.5, bold: true },
    { text: 'VXD', x: 960, y: 965.8, size: 11.5, sans: true },
  ],
  xpow: [{ x: 940, y: 602.7, base: 'x10', sup: '5' }, { x: 940, y: 687.3, base: 'x10', sup: '6' }],
  legends: [
    { x: 1697.3, y: 128.3, w: 85.4, h: 46.7, mx1: 1704.3, mx2: 1744, tx: 1749.7,
      entries: [{ mark: 'line', color: C.ler, y: 142.3, labels: [['LER', 142.3]] }, { mark: 'line', color: C.her, y: 160, labels: [['HER', 160]] }] },
    { x: 1682.3, y: 183.3, w: 100.4, h: 39.4, mx1: 1689, mx2: 1729, tx: 1734.3, big: true,
      entries: [{ mark: 'line', color: C.repH, y: 202.3, labels: [['HER', 202.3]] }] },
    { x: 1644, y: 247.3, w: 138.7, h: 46.7, mx1: 1652.3, mx2: 0, tx: 1677.3,
      entries: [{ mark: 'dot', color: C.qB, y: 261, labels: [['QMD8E_1(nC)', 261]] }, { mark: 'dot', color: C.qG, y: 279, labels: [['QMD8E_2(nC)', 279]] }] },
    { x: 1671, y: 307.3, w: 111.7, h: 28.4, mx1: 1679.3, mx2: 0, tx: 1704.3,
      entries: [{ mark: 'dot', color: C.inj, y: 321, labels: [['Inj.Rate', 321]] }] },
    { x: 1626, y: 366.7, w: 156.7, h: 64, mx1: 1634, mx2: 0, tx: 1659.3,
      entries: [{ mark: 'dot', color: '#000', y: 380, labels: [['Inj.Eff(BCM1)', 380]] }, { mark: 'dot', color: '#888', y: 398.3, labels: [['Inj.Eff(BCM2)', 398.3]] }, { mark: 'none', color: C.eff, y: 416, labels: [['Inj.Eff', 416]] }] },
    { x: 1670, y: 431.7, w: 112.7, h: 27.3, mx1: 1677.3, mx2: 1716.7, tx: 1722.3,
      entries: [{ mark: 'line', color: C.ecl, y: 444, labels: [['ECL_FW', 444]] }] },
    { x: 1652.3, y: 506.7, w: 130.4, h: 46, mx1: 1659, mx2: 1699, tx: 1704.3,
      entries: [{ mark: 'line', color: C.eclbg, y: 529, labels: [['ECL BG', 520], ['Duration', 537.7]] }] },
    { x: 1679.3, y: 600, w: 103.4, h: 46.7, mx1: 1686, mx2: 1726, tx: 1731,
      entries: [{ mark: 'line', color: C.sr, y: 614, labels: [['SR_FW', 614]] }, { mark: 'line', color: '#ff0000', y: 632.3, labels: [['SR_BW', 632.3]] }] },
    { x: 1652.3, y: 685.7, w: 130.4, h: 27.6, mx1: 1659, mx2: 1699, tx: 1704.3,
      entries: [{ mark: 'line', color: C.top, y: 699.3, labels: [['TOP [Hz]', 699.3]] }] },
    { x: 1670, y: 770, w: 112.7, h: 46.7, mx1: 1677.3, mx2: 1716.7, tx: 1722.3,
      entries: [{ mark: 'line', color: C.cdc, y: 784, labels: [['CDC', 784]] }, { mark: 'line', color: C.cdcAv, y: 802, labels: [['CDC_av', 802]] }] },
    { x: 1661, y: 856, w: 121.7, h: 28.3, mx1: 1668.3, mx2: 1708.3, tx: 1713.3,
      entries: [{ mark: 'line', color: C.dia, y: 870, labels: [['Diamond', 870]] }] },
    { x: 1643.3, y: 941, w: 139.4, h: 46.7, mx1: 1650, mx2: 1690, tx: 1695,
      entries: [{ mark: 'line', color: '#ff0000', y: 955, labels: [['VXD_BW180', 955]] }, { mark: 'line', color: '#0000ff', y: 973.3, labels: [['VXD_BW270', 973.3]] }] },
  ],
};

const fmt = (v: number) => String(v);

function Column({ c, id }: { c: ColCfg; id: string }) {
  const x = d3.scaleLinear().domain(c.t).range([c.left, c.right]);
  const hours = d3.range(Math.ceil(c.t[0]), Math.floor(c.t[1]) + 1);
  const minors = d3.range(Math.ceil(c.t[0] * 3), Math.floor(c.t[1] * 3) + 1).map((k) => k / 3).filter((t) => Math.abs(t - Math.round(t)) > 0.01);
  const gridHours = hours.filter((h) => x(h) > c.left + 3 && x(h) < c.right - 3);
  const els: React.ReactNode[] = [];

  gridHours.forEach((h) => {
    els.push(<line key={`vg${h}`} x1={x(h)} x2={x(h)} y1={c.top} y2={c.bottom} stroke="#9a9a9a" strokeWidth={1} strokeDasharray="3,3" />);
  });

  c.panels.forEach((p, pi) => {
    const y = d3.scaleLinear().domain(p.domain).range([p.bottom, p.top]);
    const clipId = `${id}c${pi}`;
    els.push(
      <clipPath key={`cp${pi}`} id={clipId}>
        <rect x={c.left} y={p.top - 1} width={c.right - c.left} height={p.bottom - p.top + 2} />
      </clipPath>
    );
    p.ticks.forEach((tv) => {
      const yy = y(tv);
      if (yy > p.bottom - 2 || yy < p.top + 2) return;
      els.push(<line key={`hg${pi}_${tv}`} x1={c.left} x2={c.right} y1={yy} y2={yy} stroke="#9a9a9a" strokeWidth={1} strokeDasharray="3,3" />);
    });
    const g: React.ReactNode[] = [];
    p.series.forEach((s, si) => {
      if (s.k === 'line') {
        const ln = d3.line<P2>().x((d) => x(d[0])).y((d) => y(d[1])).curve(s.step ? d3.curveStepAfter : d3.curveLinear);
        g.push(<path key={si} d={ln(s.d) || ''} fill="none" stroke={s.c} strokeWidth={s.w || 1.5} />);
      } else if (s.k === 'vlines') {
        g.push(
          <g key={si}>
            {s.d.map((d, k) => (
              <line key={k} x1={x(d[0])} x2={x(d[0])} y1={y(d[1])} y2={y(d[2])} stroke={s.c} strokeWidth={s.w || 1} />
            ))}
          </g>
        );
      } else {
        const def = (d: P3) => !isNaN(d[1]);
        const ar = d3.area<P3>().defined(def).x((d) => x(d[0])).y0((d) => y(d[1])).y1((d) => y(d[2]));
        const hi = d3.line<P3>().defined(def).x((d) => x(d[0])).y((d) => y(d[2]));
        const lo = d3.line<P3>().defined(def).x((d) => x(d[0])).y((d) => y(d[1]));
        g.push(
          <g key={si}>
            <path d={ar(s.d) || ''} fill={s.c} stroke="none" />
            <path d={hi(s.d) || ''} fill="none" stroke={s.c} strokeWidth={s.w || 1.2} />
            <path d={lo(s.d) || ''} fill="none" stroke={s.c} strokeWidth={s.w || 1.2} />
          </g>
        );
      }
    });
    els.push(<g key={`s${pi}`} clipPath={`url(#${clipId})`}>{g}</g>);

    const major = p.ticks[1] - p.ticks[0];
    const mstep = major / 5;
    const mins = d3.range(Math.ceil(p.domain[0] / mstep), Math.floor(p.domain[1] / mstep) + 1).map((k) => k * mstep);
    mins.forEach((mv, mi) => {
      const yy = y(mv);
      els.push(<line key={`ym${pi}_${mi}`} x1={c.left} x2={c.left + 8} y1={yy} y2={yy} stroke="#000" strokeWidth={1} />);
    });
    p.ticks.forEach((tv) => {
      const yy = y(tv);
      els.push(<line key={`yM${pi}_${tv}`} x1={c.left} x2={c.left + 23} y1={yy} y2={yy} stroke="#000" strokeWidth={1.2} />);
      els.push(
        <text key={`yl${pi}_${tv}`} x={c.left - 2.5} y={yy} textAnchor="end" dominantBaseline="central" fontFamily={MONO} fontSize={p.fs} fill="#000">
          {fmt(tv)}
        </text>
      );
    });
    const tl = p.tl || 11;
    hours.forEach((h) => {
      const xx = x(h);
      if (xx < c.left || xx > c.right) return;
      els.push(<line key={`xM${pi}_${h}`} x1={xx} x2={xx} y1={p.bottom} y2={p.bottom - tl} stroke="#000" strokeWidth={1.3} />);
    });
    minors.forEach((t, k) => {
      const xx = x(t);
      els.push(<line key={`xm${pi}_${k}`} x1={xx} x2={xx} y1={p.bottom} y2={p.bottom - 4} stroke="#000" strokeWidth={1} />);
    });
    els.push(
      <line key={`pb${pi}`} x1={c.left} x2={c.right} y1={p.bottom} y2={p.bottom} stroke="#000" strokeWidth={p.dashed ? 1.3 : 1.5} strokeDasharray={p.dashed ? '3,2' : undefined} />
    );
  });

  els.push(<line key="fl" x1={c.left} x2={c.left} y1={c.top} y2={c.bottom} stroke="#000" strokeWidth={1.5} />);
  els.push(<line key="fr" x1={c.right} x2={c.right} y1={c.top} y2={c.bottom} stroke="#000" strokeWidth={1.5} />);
  els.push(<line key="ft" x1={c.left} x2={c.right} y1={c.top} y2={c.top} stroke="#000" strokeWidth={1.5} />);

  c.ylabs.forEach((l, i) => {
    els.push(
      <text key={`yt${i}`} transform={`translate(${l.x},${l.y}) rotate(-90)`} textAnchor="middle" dominantBaseline="central"
        fontFamily={l.sans ? SANS : MONO} fontWeight={l.bold ? 'bold' : 'normal'} fontSize={l.size} fill="#000">
        {l.text}
      </text>
    );
  });
  c.xpow.forEach((l, i) => {
    els.push(
      <text key={`xp${i}`} x={l.x} y={l.y} fontFamily={MONO} fontSize={15} fill="#000">
        {l.base}
        <tspan dy={-8} fontSize={11}>{l.sup}</tspan>
      </text>
    );
  });

  const FS = 19, SFS = 14, DY = 11;
  hours.forEach((h) => {
    const xx = x(h);
    if (xx < c.left - 2 || xx > c.right + 1) return;
    if (h === 16) {
      els.push(
        <text key="xl16" x={xx - 20} y={c.xLabY} fontFamily={MONO} fontSize={FS} fill="#000">
          16<tspan dy={-DY} fontSize={SFS}>h</tspan><tspan dy={DY} fontSize={FS}>0</tspan><tspan dy={-DY} fontSize={SFS}>m</tspan><tspan dy={DY} fontSize={FS}>0</tspan><tspan dy={-DY} fontSize={SFS}>s</tspan>
        </text>
      );
    } else if (h === 24) {
      els.push(
        <text key="xl24" x={xx} y={c.xLabY} textAnchor="middle" fontFamily={MONO} fontSize={FS} fill="#000">
          0<tspan dy={-DY} fontSize={SFS}>h</tspan><tspan dy={DY} fontSize={FS}>0</tspan><tspan dy={-DY} fontSize={SFS}>m</tspan>
        </text>
      );
    } else if (h < 24) {
      els.push(
        <text key={`xl${h}`} x={xx} y={c.xLabY} textAnchor="middle" fontFamily={MONO} fontSize={FS} fill="#000">
          {String(h)}<tspan dy={-DY} fontSize={SFS}>h</tspan>
        </text>
      );
    }
  });
  els.push(<text key="d1" x={x(16) - 57} y={c.dateY} fontFamily={MONO} fontSize={19.5} fill="#000">5/24/2026</text>);
  els.push(<text key="d2" x={x(24) - 4.5} y={c.dateY} textAnchor="middle" fontFamily={MONO} fontSize={19.5} fill="#000">5/25</text>);

  c.legends.forEach((lg, li) => {
    els.push(
      <g key={`lg${li}`}>
        <rect x={lg.x + 2.5} y={lg.y + 2.5} width={lg.w} height={lg.h} fill="#333" />
        <rect x={lg.x} y={lg.y} width={lg.w} height={lg.h} fill="#fff" stroke="#000" strokeWidth={1.3} />
        {lg.entries.map((e, ei) => (
          <g key={ei}>
            {e.mark === 'line' && <line x1={lg.mx1} x2={lg.mx2} y1={e.y} y2={e.y} stroke={e.color} strokeWidth={1.3} />}
            {e.mark === 'dot' && <circle cx={lg.mx1} cy={e.y} r={3} fill={e.color} />}
            {e.labels.map(([t, ty], ti) => (
              <text key={ti} x={lg.tx} y={ty} dominantBaseline="central"
                fontFamily={lg.big ? "'Liberation Sans Narrow', 'DejaVu Sans Condensed', 'DejaVu Sans', sans-serif" : MONO}
                fontSize={lg.big ? 25 : 14.5} fill="#000">
                {t}
              </text>
            ))}
          </g>
        ))}
      </g>
    );
  });

  return <g>{els}</g>;
}

export default function App() {
  return (
    <svg width={1806} height={1062} style={{ position: 'absolute', left: 0, top: 0, background: '#fff' }} xmlns="http://www.w3.org/2000/svg">
      <rect x={0} y={0} width={1806} height={1062} fill="#fff" />
      <line x1={1} x2={1} y1={0} y2={1062} stroke="#b4b4b4" strokeWidth={2} />
      <line x1={0} x2={902} y1={0.5} y2={0.5} stroke="#b4b4b4" strokeWidth={1} />
      <line x1={902} x2={902} y1={0} y2={1062} stroke="#b4b4b4" strokeWidth={2} />
      <line x1={1805} x2={1805} y1={0} y2={1062} stroke="#b4b4b4" strokeWidth={2} />
      <Column c={LEFT} id="L" />
      <Column c={RIGHT} id="R" />
    </svg>
  );
}
